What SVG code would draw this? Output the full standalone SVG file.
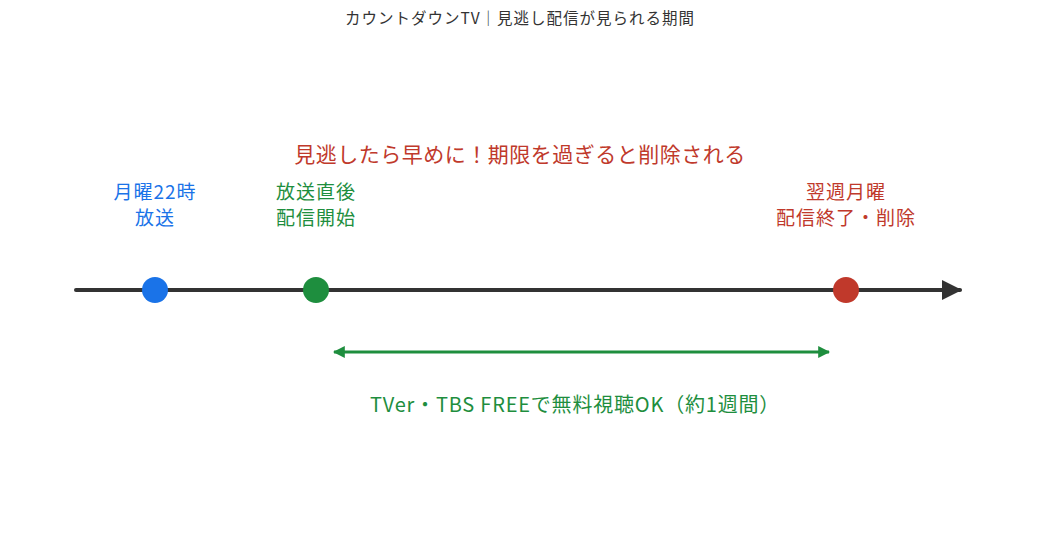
<svg xmlns="http://www.w3.org/2000/svg" width="1040" height="555" viewBox="0 0 1040 555">
<style>
text{font-family:"Noto Sans CJK JP","Noto Sans",sans-serif;text-anchor:middle}
.title{font-size:15.5px;fill:#333;letter-spacing:1px}
.lbl{font-size:19px;letter-spacing:1px}
.cap{font-size:21px;letter-spacing:0.5px}
.per{font-size:20px;letter-spacing:0.8px}
.blue{fill:#1a73e8}
.green{fill:#1e8e3e}
.red{fill:#c0392b}
</style>
<defs>
<marker id="ah" viewBox="0 0 10 10" refX="9" refY="5" markerWidth="5" markerHeight="5" markerUnits="strokeWidth" orient="auto"><path d="M0,0 L10,5 L0,10 z" fill="#333"/></marker>
<marker id="gh" viewBox="0 0 10 10" refX="9" refY="5" markerWidth="4" markerHeight="4" markerUnits="strokeWidth" orient="auto-start-reverse"><path d="M0,0 L10,5 L0,10 z" fill="#1e8e3e"/></marker>
</defs>
<rect width="1040" height="555" fill="#fff"/>
<text class="title" x="520" y="24">カウントダウンTV｜見逃し配信が見られる期間</text>
<text class="cap red" x="520" y="162">見逃したら早めに！期限を過ぎると削除される</text>
<g id="connectors">
<line x1="76" y1="290" x2="960" y2="290" stroke="#333" stroke-width="4" stroke-linecap="round" marker-end="url(#ah)"/>
<line x1="334" y1="352" x2="829" y2="352" stroke="#1e8e3e" stroke-width="3" marker-start="url(#gh)" marker-end="url(#gh)"/>
</g>
<g id="node-broadcast">
<circle cx="155" cy="290" r="13" fill="#1a73e8"/>
<text class="lbl blue" x="155" y="199">月曜22時</text>
<text class="lbl blue" x="155" y="225">放送</text>
</g>
<g id="node-start">
<circle cx="316" cy="290" r="13" fill="#1e8e3e"/>
<text class="lbl green" x="316" y="199">放送直後</text>
<text class="lbl green" x="316" y="225">配信開始</text>
</g>
<g id="node-end">
<circle cx="846" cy="290" r="13" fill="#c0392b"/>
<text class="lbl red" x="846" y="199">翌週月曜</text>
<text class="lbl red" x="846" y="225">配信終了・削除</text>
</g>
<g id="label-period">
<text class="per green" x="575" y="412">TVer・TBS FREEで無料視聴OK（約1週間）</text>
</g>
</svg>
